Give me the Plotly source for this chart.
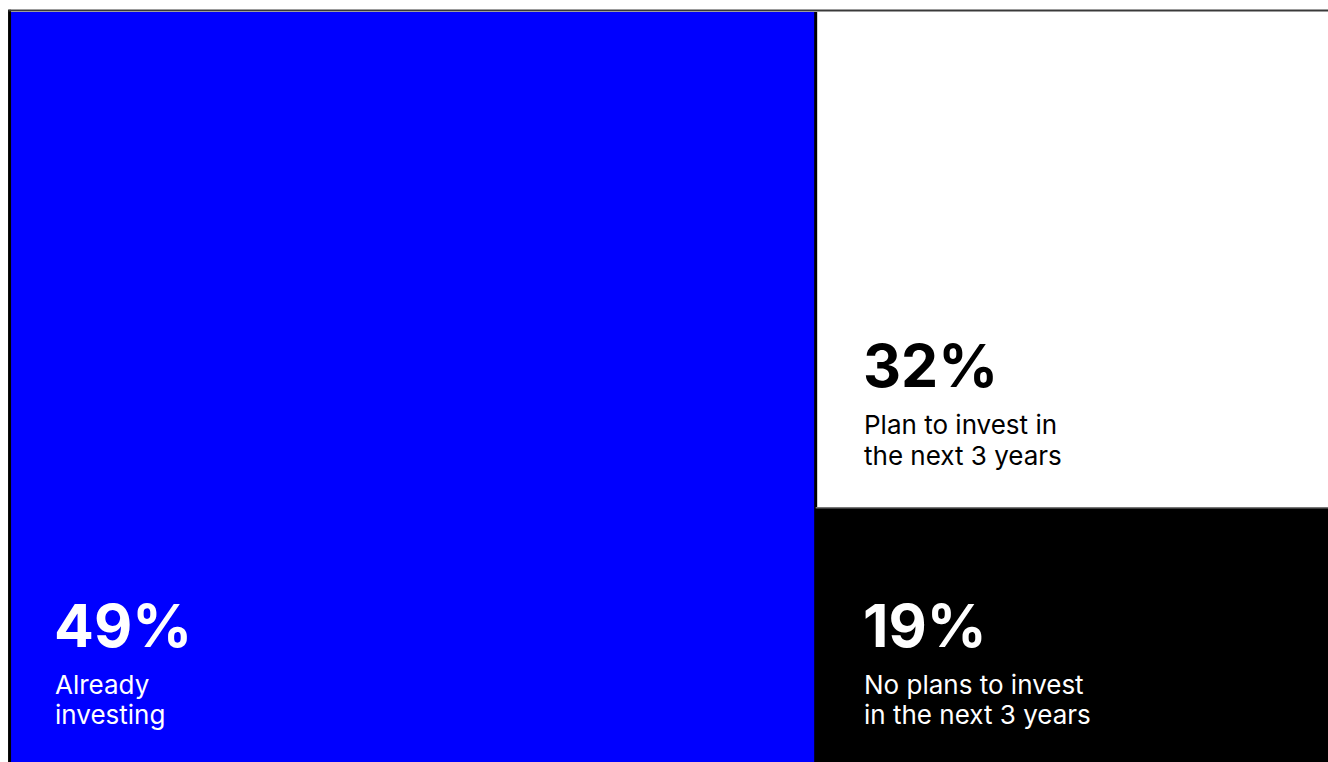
import plotly.graph_objects as go

# ---- data ----
categories = ["Already investing", "Plan to invest in the next 3 years", "No plans to invest in the next 3 years"]
percents = [49, 32, 19]
label_lines = [["Already", "investing"], ["Plan to invest in", "the next 3 years"], ["No plans to invest", "in the next 3 years"]]
colors = ["#0000FF", "#FFFFFF", "#000000"]
text_colors = ["#FFFFFF", "#000000", "#FFFFFF"]

# ---- layout geometry (fractions of plot area) ----
left_col_w = 0.611      # width of the left tile
split_h = 0.339         # height of bottom-right tile

FONT = "Inter"
NUM_SIZE = 59
LBL_SIZE = 26

fig = go.Figure()
tiles = [
    (0.0, left_col_w, 0.0, 1.0),
    (left_col_w, 1.0, split_h, 1.0),
    (left_col_w, 1.0, 0.0, split_h),
]
for i, (x0, x1, y0, y1) in enumerate(tiles):
    fig.add_trace(go.Bar(
        x=[(x0 + x1) / 2], width=[x1 - x0], base=[y0], y=[y1 - y0],
        marker=dict(color=colors[i], line=dict(width=0)),
        name=categories[i], hoverinfo="name", showlegend=False,
    ))

# text anchor positions (paper): x, number bottom, label line bottoms
text_pos = [
    (0.0315, 0.132, [0.0795, 0.0395]),
    (0.6455, 0.479, [0.4265, 0.3852]),
    (0.6455, 0.132, [0.0795, 0.0395]),
]
for i, (tx, ny, lys) in enumerate(text_pos):
    fig.add_annotation(x=tx, y=ny, xref="paper", yref="paper", xanchor="left", yanchor="bottom",
                       text=f"<b>{percents[i]}%</b>", showarrow=False, align="left",
                       font=dict(family=FONT, size=NUM_SIZE, color=text_colors[i]))
    for line, ly in zip(label_lines[i], lys):
        fig.add_annotation(x=tx + 0.0005, y=ly, xref="paper", yref="paper", xanchor="left", yanchor="bottom",
                           text=line, showarrow=False, align="left",
                           font=dict(family=FONT, size=LBL_SIZE, color=text_colors[i]))

# borders
fig.add_shape(type="line", xref="paper", yref="paper", x0=-0.0011, x1=-0.0011, y0=0, y1=1.003,
              line=dict(color="#000000", width=3))
fig.add_shape(type="line", xref="paper", yref="paper", x0=-0.002, x1=1, y0=1.002, y1=1.002,
              line=dict(color="#3a3a3a", width=2))
fig.add_shape(type="line", xref="x", yref="paper", x0=left_col_w, x1=left_col_w, y0=0, y1=1,
              line=dict(color="#000000", width=3))
fig.add_shape(type="line", xref="x", yref="y", x0=left_col_w, x1=1, y0=split_h, y1=split_h,
              line=dict(color="#777777", width=1.5))

fig.update_layout(
    width=1328, height=762,
    margin=dict(l=11, r=0, t=12, b=0),
    paper_bgcolor="#FFFFFF", plot_bgcolor="#FFFFFF",
    barmode="overlay", bargap=0,
    xaxis=dict(range=[0, 1], visible=False, fixedrange=True),
    yaxis=dict(range=[0, 1], visible=False, fixedrange=True),
)
fig.write_html("out.html", config={"displayModeBar": False})
